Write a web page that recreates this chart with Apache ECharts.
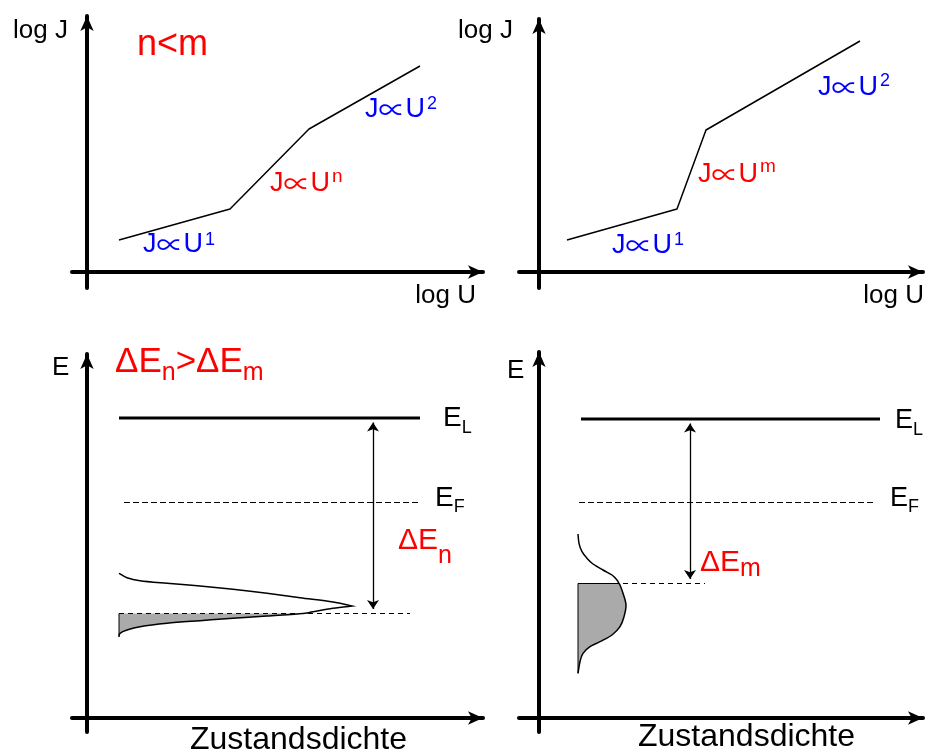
<!DOCTYPE html>
<html>
<head>
<meta charset="utf-8">
<script src="https://cdn.jsdelivr.net/npm/echarts@6/dist/echarts.min.js"></script>
<style>
  html, body { margin: 0; padding: 0; background: #ffffff; }
  #chart { width: 931px; height: 756px; }
</style>
</head>
<body>
<div id="chart"></div>
<script>
// ---- J(U) characteristics on log-log axes (arbitrary units) ----
const logU_n = [3.2, 14.3, 22.2, 33.3];
const logJ_n = [3.2, 6.3, 14.3, 20.6];
const logU_m = [2.8, 13.8, 16.7, 32.1];
const logJ_m = [3.2, 6.3, 14.2, 23.1];

// ---- energy levels: E_L, E_F, trap filling level (arbitrary units) ----
const levelsN = [30.0, 21.55, 10.45];
const levelsM = [29.9, 21.55, 13.45];

// ---- trap density of states, sampled from top to bottom ----
const energyN = [14.47, 14.03, 13.73, 13.47, 13.2, 12.87, 12.47, 12.03, 11.6, 11.2, 10.97, 10.63, 10.45, 10.2, 9.97, 9.73, 9.47, 9.13, 8.8, 8.47, 8.13];
const dosN    = [0.0, 0.8, 2.1, 4.8, 8.1, 11.4, 14.8, 18.1, 21.4, 23.3, 21.4, 19.4, 18.4, 14.8, 11.4, 8.1, 4.8, 2.1, 0.8, 0.1, 0.0];
const energyM = [18.4, 17.47, 16.63, 15.97, 15.4, 14.8, 14.3, 13.8, 13.45, 13.3, 12.47, 11.3, 10.13, 9.13, 8.3, 7.63, 7.13, 6.47, 5.63, 4.47];
const dosM    = [0.0, 0.1, 0.4, 0.9, 1.5, 2.5, 3.4, 3.9, 4.1, 4.2, 4.5, 4.8, 4.6, 4.2, 3.4, 2.2, 1.2, 0.5, 0.2, 0.0];

// ---- layout ----
const FONT = '"Liberation Sans", Arial, sans-serif';
const SYMBOL_FONT = '"Noto Sans CJK JP", "DejaVu Sans", sans-serif';
const RED = '#ff0000', BLUE = '#0000ff', BLACK = '#000000';

const panels = [
  { grid: { left: 72,  top: 16,  width: 411, height: 272 }, x: [-1.5, 39.6], y: [-1.6, 25.6] },
  { grid: { left: 519, top: 19,  width: 404, height: 269 }, x: [-2.0, 38.4], y: [-1.6, 25.3] },
  { grid: { left: 72,  top: 354, width: 411, height: 378 }, x: [-1.5, 39.6], y: [-1.4, 36.4] },
  { grid: { left: 519, top: 352, width: 404, height: 380 }, x: [-2.0, 38.4], y: [-1.4, 36.6] }
];

// level-line extents, DOS baseline and peak handling for the two band diagrams (data units)
const bandN = { el: [3.2, 33.3], ef: [3.7, 33.1], et: [3.2, 32.3], arrowX: 28.6, base: 3.2, topEdge: false, cusp: 9 };
const bandM = { el: [4.2, 34.1], ef: [4.0, 33.4], et: [3.9, 16.6], arrowX: 15.1, base: 3.9, topEdge: true, cusp: -1 };

function axisPair(i) {
  const p = panels[i];
  const axisLine = {
    show: true, onZero: true,
    symbol: ['none', 'arrow'], symbolSize: [10, 15],
    lineStyle: { color: BLACK, width: 4 }
  };
  const common = {
    type: 'value', gridIndex: i,
    axisLine: axisLine, axisTick: { show: false }, axisLabel: { show: false },
    splitLine: { show: false }
  };
  return {
    x: Object.assign({}, common, { min: p.x[0], max: p.x[1] }),
    y: Object.assign({}, common, { min: p.y[0], max: p.y[1] })
  };
}

const xAxes = [], yAxes = [];
for (let i = 0; i < 4; i++) { const a = axisPair(i); xAxes.push(a.x); yAxes.push(a.y); }

function curve(xs, ys, i) {
  return {
    type: 'line', xAxisIndex: i, yAxisIndex: i, silent: true, symbol: 'none', z: 3,
    data: xs.map((x, k) => [x, ys[k]]),
    lineStyle: { color: BLACK, width: 1.5 }
  };
}

function hLine(span, e, i, style) {
  return {
    type: 'line', xAxisIndex: i, yAxisIndex: i, silent: true, symbol: 'none', z: 4,
    data: [[span[0], e], [span[1], e]],
    lineStyle: style
  };
}

// Catmull-Rom segments through pixel points; a cusp index keeps a sharp corner there
function splineSegments(pts, cusp) {
  const n = pts.length, segs = [];
  for (let i = 0; i < n - 1; i++) {
    const p1 = pts[i], p2 = pts[i + 1];
    const p0 = (i === 0 || i === cusp) ? p1 : pts[i - 1];
    const p3 = (i + 2 >= n || i + 1 === cusp) ? p2 : pts[i + 2];
    const c1 = [p1[0] + (p2[0] - p0[0]) / 6, p1[1] + (p2[1] - p0[1]) / 6];
    const c2 = [p2[0] - (p3[0] - p1[0]) / 6, p2[1] - (p3[1] - p1[1]) / 6];
    segs.push(' C' + c1.join(' ') + ' ' + c2.join(' ') + ' ' + p2.join(' '));
  }
  return segs;
}

function bandSeries(levels, energy, dos, band, i) {
  const out = [];
  // conduction band edge, Fermi level, trap filling level
  out.push(hLine(band.el, levels[0], i, { color: BLACK, width: 3 }));
  out.push(hLine(band.ef, levels[1], i, { color: BLACK, width: 1.1, type: [6, 3] }));
  out.push(hLine(band.et, levels[2], i, { color: BLACK, width: 1.1, type: [5, 4] }));

  // trap distribution: occupied part filled grey, full outline drawn on top
  out.push({
    type: 'custom', xAxisIndex: i, yAxisIndex: i, silent: true, z: 3,
    data: [[band.base, levels[2]]],
    renderItem: function (params, api) {
      const pts = energy.map((e, k) => api.coord([band.base + dos[k], e]));
      const segs = splineSegments(pts, band.cusp);
      let kc = 0;
      while (kc < energy.length && energy[kc] > levels[2]) kc++;
      const corner = api.coord([band.base, levels[2]]);
      const bottom = api.coord([band.base, energy[energy.length - 1]]);
      const fillPath = 'M' + corner.join(' ') + ' L' + pts[kc].join(' ') +
        segs.slice(kc).join('') + ' L' + bottom.join(' ') + ' Z';
      const linePath = 'M' + pts[0].join(' ') + segs.join('');
      const edge = band.topEdge ? [pts[kc], corner, bottom] : [corner, bottom];
      return {
        type: 'group',
        children: [
          { type: 'path', shape: { pathData: fillPath }, style: { fill: '#aaaaaa', stroke: null }, z2: 1 },
          { type: 'polyline', shape: { points: edge }, style: { stroke: BLACK, lineWidth: 1, fill: null }, z2: 2 },
          { type: 'path', shape: { pathData: linePath }, style: { fill: null, stroke: BLACK, lineWidth: 1.5 }, z2: 3 }
        ]
      };
    }
  });

  // activation energy arrow between E_L and the filling level
  const inset = 0.45;
  out.push({
    type: 'lines', coordinateSystem: 'cartesian2d', xAxisIndex: i, yAxisIndex: i, silent: true, z: 5,
    symbol: ['arrow', 'arrow'], symbolSize: 9,
    lineStyle: { color: BLACK, width: 1.3, opacity: 1 },
    data: [{ coords: [[band.arrowX, levels[0] - inset], [band.arrowX, levels[2] + inset]] }]
  });
  return out;
}

const series = [].concat(
  [curve(logU_n, logJ_n, 0), curve(logU_m, logJ_m, 1)],
  bandSeries(levelsN, energyN, dosN, bandN, 2),
  bandSeries(levelsM, energyM, dosM, bandM, 3)
);

// text with sub-/superscripts: parts = [text, fontSize, vertical offset of its middle line, font, padR, padL]
function label(x, y, parts, color, align) {
  const top = y - 40;
  const rich = {};
  let str = '';
  parts.forEach((p, k) => {
    const key = 't' + k;
    const size = p[1], dy = p[2] || 0;
    rich[key] = {
      fontSize: size, fontFamily: p[3] || FONT, fill: color,
      height: size, verticalAlign: 'top',
      padding: [y + dy - top - size / 2, p[4] || 0, 0, p[5] || 0]
    };
    str += '{' + key + '|' + p[0] + '}';
  });
  return {
    type: 'text', x: x, y: top, silent: true,
    style: { text: str, rich: rich, align: align || 'left', verticalAlign: 'top' }
  };
}

// "J ∝ U^k" power-law label
function powerLaw(x, y, exp, expSize, expDy, color) {
  return label(x, y, [
    ['J', 27],
    ['∝', 27, 0, SYMBOL_FONT, 0, 0],
    ['U', 27],
    [exp, expSize, expDy, FONT, 0, 2]
  ], color);
}

const texts = [
  // J(U), n < m
  label(13, 30.5, [['log J', 26]], BLACK),
  label(137, 45, [['n<m', 36]], RED),
  powerLaw(143, 245, '1', 18, -4.5, BLUE),
  powerLaw(270, 184, 'n', 19, -7.5, RED),
  powerLaw(365, 110, '2', 18, -6, BLUE),
  label(476, 296, [['log U', 26]], BLACK, 'right'),
  // J(U), m
  label(513, 31, [['log J', 26]], BLACK, 'right'),
  powerLaw(612, 245.5, '1', 18, -5, BLUE),
  powerLaw(698, 174.5, 'm', 19, -8, RED),
  powerLaw(818, 88, '2', 18, -6.5, BLUE),
  label(924, 296, [['log U', 26]], BLACK, 'right'),
  // band diagram, broad distribution
  label(52, 368, [['E', 26]], BLACK),
  label(115, 362.5, [['ΔE', 35], ['n', 25, 10.5], ['>ΔE', 35], ['m', 25, 10.5]], RED),
  label(443, 418, [['E', 28], ['L', 18, 10.5]], BLACK),
  label(435, 498.3, [['E', 28], ['F', 18, 8.4]], BLACK),
  label(398, 541, [['ΔE', 30], ['n', 25, 15.5]], RED),
  label(190, 740.5, [['Zustandsdichte', 32]], BLACK),
  // band diagram, narrow distribution
  label(507, 370.5, [['E', 26]], BLACK),
  label(895, 421, [['E', 27], ['L', 18, 9]], BLACK),
  label(890, 499, [['E', 27], ['F', 18, 8.5]], BLACK),
  label(700, 562.5, [['ΔE', 30], ['m', 25, 6.8]], RED),
  label(638, 737.5, [['Zustandsdichte', 32]], BLACK)
];

const chart = echarts.init(document.getElementById('chart'), null, { renderer: 'canvas' });
chart.setOption({
  animation: false,
  backgroundColor: '#ffffff',
  grid: panels.map(p => Object.assign({ containLabel: false }, p.grid)),
  xAxis: xAxes,
  yAxis: yAxes,
  series: series,
  graphic: { elements: texts }
});
</script>
</body>
</html>
